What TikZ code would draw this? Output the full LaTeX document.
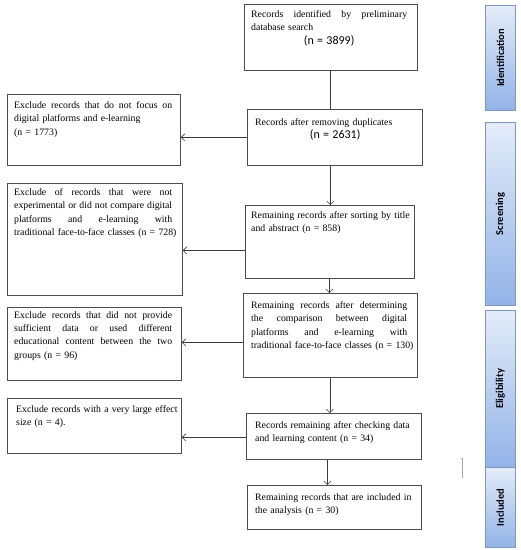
\documentclass[tikz,border=0pt]{standalone}
\usepackage{fontspec}
\setmainfont{Liberation Serif}
\newfontfamily\calibri{Carlito}
\usetikzlibrary{arrows.meta}
\definecolor{boxline}{HTML}{4D4D4D}
\definecolor{arrline}{HTML}{3A3A3A}
\definecolor{bandtop}{HTML}{E3ECF9}
\definecolor{bandbot}{HTML}{93B3E8}
\definecolor{bandline}{HTML}{8197BA}
\newcommand\nline[1]{\makebox[\hsize]{\calibri\fontsize{12}{13}\selectfont #1}}
\begin{document}
\begin{tikzpicture}[x=1pt,y=-1pt,
  box/.style={draw=boxline,line width=0.8pt,anchor=north west,inner sep=0pt,fill=white},
  txt/.style={anchor=north west,inner sep=0pt,text width=#1,align=left,
    font=\fontsize{9.8}{13.3}\selectfont},
  arr/.style={draw=arrline,line width=0.6pt,-{Straight Barb[length=3.5pt,width=7pt]}},
  plain/.style={draw=arrline,line width=0.6pt},
  band/.style={draw=bandline,line width=0.7pt,top color=bandtop,bottom color=bandbot,
    anchor=north west,inner sep=0pt,minimum width=30pt},
  bandlbl/.style={rotate=90,font=\calibri\bfseries\fontsize{10.5}{12}\selectfont,inner sep=0pt}]
\useasboundingbox (0,0) rectangle (521,550);

% main column boxes
\node[box,minimum width=173pt,minimum height=66pt] (b1) at (244,4) {};
\node[box,minimum width=175pt,minimum height=56pt] (b2) at (247,109) {};
\node[box,minimum width=169pt,minimum height=73pt] (b3) at (245,205) {};
\node[box,minimum width=174pt,minimum height=84pt] (b4) at (243,293) {};
\node[box,minimum width=175pt,minimum height=46pt] (b5) at (246,413) {};
\node[box,minimum width=174pt,minimum height=44pt] (b6) at (247,485) {};

% exclusion boxes
\node[box,minimum width=173pt,minimum height=71pt] (l1) at (7,94) {};
\node[box,minimum width=175pt,minimum height=112pt] (l2) at (7,183) {};
\node[box,minimum width=174pt,minimum height=73pt] (l3) at (7,307) {};
\node[box,minimum width=174pt,minimum height=55pt] (l4) at (7,398) {};

% texts
\node[txt=156pt] (t1) at ([shift={(7,6.5)}]b1.north west)
  {Records\hfill identified\hfill by\hfill preliminary\\database search\\\nline{(n = 3899)}};
\node[txt=160pt] (t2) at ([shift={(8,9.3)}]b2.north west)
  {Records after removing duplicates\\\nline{(n = 2631)}};
\node[txt=180pt] (t3) at ([shift={(6,6.3)}]b3.north west)
  {Remaining records after sorting by title\\and abstract (n = 858)};
\node[txt=156pt] (t4) at ([shift={(8,8.3)}]b4.north west)
  {Remaining\hfill records\hfill after\hfill determining\\the\hfill comparison\hfill between\hfill digital\\platforms\hfill and\hfill e-learning\hfill with\\\mbox{traditional face-to-face classes (n = 130)}};
\node[txt=180pt] (t5) at ([shift={(9,8.3)}]b5.north west)
  {Records remaining after checking data\\and learning content (n = 34)};
\node[txt=180pt] (t6) at ([shift={(8,8.3)}]b6.north west)
  {Remaining records that are included in\\the analysis (n = 30)};

\node[txt=158pt] (s1) at ([shift={(7,7.3)}]l1.north west)
  {Exclude\hfill records\hfill that\hfill do\hfill not\hfill focus\hfill on\\digital platforms and e-learning\\(n = 1773)};
\node[txt=158pt] (s2) at ([shift={(7,5.3)}]l2.north west)
  {Exclude\hfill of\hfill records\hfill that\hfill were\hfill not\\experimental\hfill or\hfill did\hfill not\hfill compare\hfill digital\\platforms\hfill and\hfill e-learning\hfill with\\\mbox{traditional face-to-face classes (n = 728)}};
\node[txt=158pt] (s3) at ([shift={(7,4.3)}]l3.north west)
  {Exclude\hfill records\hfill that\hfill did\hfill not\hfill provide\\sufficient\hfill data\hfill or\hfill used\hfill different\\educational\hfill content\hfill between\hfill the\hfill two\\groups (n = 96)};
\node[txt=180pt] (s4) at ([shift={(9,7.3)}]l4.north west)
  {Exclude records with a very large effect\\size (n = 4).};

% vertical connectors
\coordinate (c1) at ([xshift=-0.5pt]b1.south);
\draw[plain] (c1) -- (c1 |- b2.north);
\coordinate (c2) at ([xshift=-4.5pt]b2.south);
\draw[arr] (c2) -- (c2 |- b3.north);
\coordinate (c3) at ([xshift=-0.5pt]b3.south);
\draw[arr] (c3) -- (c3 |- b4.north);
\coordinate (c4) at ([xshift=-0.5pt]b4.south);
\draw[arr] (c4) -- (c4 |- b5.north);
\coordinate (c5) at ([xshift=-6.5pt]b5.south);
\draw[arr] (c5) -- (c5 |- b6.north);

% horizontal connectors
\draw[arr] (b2.west) -- (b2.west -| l1.east);
\coordinate (h2) at ([yshift=-8.5pt]b3.west);
\draw[arr] (h2) -- (h2 -| l2.east);
\coordinate (h3) at ([yshift=-7pt]b4.west);
\draw[arr] (h3) -- (h3 -| l3.east);
\coordinate (h4) at ([yshift=-1pt]b5.west);
\draw[arr] (h4) -- (h4 -| l4.east);

% phase bands
\node[band,minimum height=105pt] (p1) at (485,5) {};
\node[band,minimum height=183pt] (p2) at (485,122) {};
\node[band,minimum height=157pt] (p3) at (485,310) {};
\node[band,minimum height=80pt] (p4) at (485,467) {};
\node[bandlbl] (q1) at (p1.center) {Identification};
\node[bandlbl] (q2) at (p2.center) {Screening};
\node[bandlbl] (q3) at (p3.center) {Eligibility};
\node[bandlbl] (q4) at (p4.center) {Included};

% small stray mark
\draw[draw=gray!70,line width=0.5pt] (460.5,458) -- (462,458) -- (462,478);
\end{tikzpicture}
\end{document}
